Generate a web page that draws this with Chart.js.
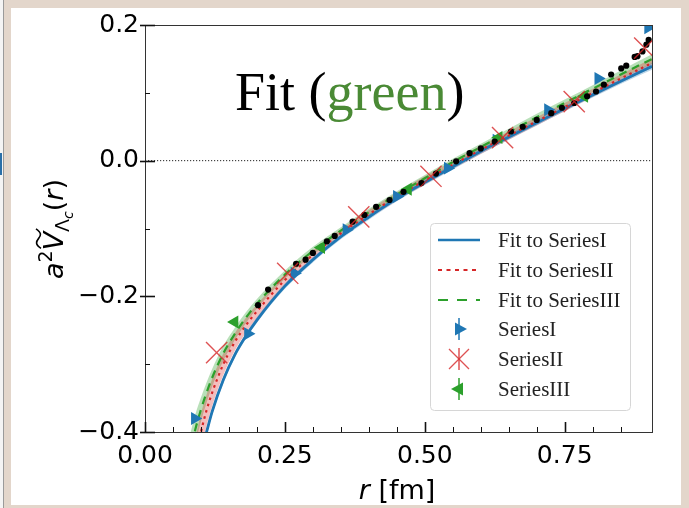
<!DOCTYPE html>
<html>
<head>
<meta charset="utf-8">
<script src="https://cdn.jsdelivr.net/npm/chart.js@4.4.0/dist/chart.umd.min.js"></script>
<style>
  html, body { margin:0; padding:0; width:689px; height:508px; overflow:hidden; background:#e3d6cb; }
  #edge { position:absolute; left:0; top:0; width:3px; height:508px; background:#f4f4f4; border-right:1px solid #9a9a9a; }
  #mark { position:absolute; left:0; top:153px; width:2px; height:22px; background:#2a6fa8; }
  #panel { position:absolute; left:11px; top:8px; width:670px; height:497px; background:#fff; }
  #wrap { position:absolute; left:0; top:0; width:689px; height:508px; }
</style>
</head>
<body>
<div id="edge"></div><div id="mark"></div>
<div id="panel"></div>
<div id="wrap"><canvas id="chart" width="689" height="508"></canvas></div>
<script>
const rGrid = [0.07, 0.08, 0.09, 0.10, 0.11, 0.12, 0.14, 0.16, 0.18, 0.20, 0.25, 0.30, 0.35, 0.40, 0.45, 0.50, 0.55, 0.60, 0.65, 0.70, 0.75, 0.80, 0.85, 0.906];
const fitI   = [-0.62, -0.53, -0.47, -0.43, -0.40, -0.37, -0.323, -0.287, -0.259, -0.235, -0.185, -0.146, -0.112, -0.083, -0.056, -0.032, -0.009, 0.014, 0.035, 0.056, 0.077, 0.097, 0.117, 0.139];
const fitII  = [-0.56, -0.49, -0.44, -0.40, -0.368, -0.342, -0.300, -0.268, -0.243, -0.222, -0.176, -0.139, -0.107, -0.079, -0.053, -0.029, -0.006, 0.016, 0.037, 0.058, 0.079, 0.100, 0.121, 0.144];
const fitIII = [-0.48, -0.434, -0.396, -0.367, -0.342, -0.320, -0.284, -0.256, -0.232, -0.211, -0.168, -0.133, -0.103, -0.076, -0.050, -0.026, -0.002, 0.020, 0.042, 0.064, 0.085, 0.106, 0.127, 0.150];
// half widths of the error bands
const errI   = [0.008, 0.007, 0.006, 0.006, 0.005, 0.005, 0.005, 0.004, 0.004, 0.004, 0.004, 0.004, 0.004, 0.004, 0.004, 0.004, 0.004, 0.004, 0.004, 0.004, 0.004, 0.004, 0.004, 0.005];
const errII  = [0.05, 0.04, 0.032, 0.027, 0.023, 0.020, 0.016, 0.013, 0.011, 0.010, 0.008, 0.007, 0.006, 0.006, 0.006, 0.006, 0.006, 0.006, 0.006, 0.006, 0.006, 0.006, 0.006, 0.007];
const errIII = [0.035, 0.028, 0.022, 0.018, 0.015, 0.013, 0.011, 0.009, 0.008, 0.007, 0.006, 0.006, 0.005, 0.005, 0.005, 0.005, 0.005, 0.005, 0.005, 0.005, 0.005, 0.005, 0.006, 0.007];

// data points
const seriesIR = [0.089, 0.184, 0.267, 0.360, 0.450, 0.541, 0.628, 0.720, 0.810, 0.899];
const seriesIV = [-0.380, -0.255, -0.166, -0.102, -0.053, -0.011, 0.030, 0.075, 0.121, 0.196];
const seriesIIR = [0.128, 0.255, 0.382, 0.511, 0.639, 0.767, 0.893];
const seriesIIV = [-0.283, -0.166, -0.083, -0.023, 0.034, 0.087, 0.166];
const seriesIIIR = [0.160, 0.315, 0.470, 0.632, 0.785];
const seriesIIIV = [-0.238, -0.128, -0.042, 0.034, 0.095];
const dotsR = [0.202, 0.220, 0.270, 0.287, 0.300, 0.325, 0.339, 0.371, 0.392, 0.413, 0.437, 0.462, 0.494, 0.520, 0.556, 0.580, 0.600, 0.625, 0.654, 0.675, 0.700, 0.726, 0.745, 0.767, 0.790, 0.806, 0.820, 0.833, 0.851, 0.860, 0.875, 0.880, 0.889, 0.896, 0.900];
const dotsV = [-0.213, -0.190, -0.152, -0.146, -0.136, -0.119, -0.111, -0.090, -0.080, -0.068, -0.058, -0.046, -0.033, -0.019, -0.001, 0.011, 0.018, 0.028, 0.043, 0.050, 0.060, 0.070, 0.078, 0.085, 0.095, 0.102, 0.112, 0.127, 0.136, 0.140, 0.153, 0.154, 0.161, 0.171, 0.178];
const zeroR = [0, 0.906];
const zeroV = [0, 0];

const xTickValues = [0, 0.25, 0.5, 0.75];
const xTickLabels = ['0.00', '0.25', '0.50', '0.75'];
const yTickValues = [-0.4, -0.2, 0, 0.2];
const yTickLabels = ['\u22120.4', '\u22120.2', '0.0', '0.2'];
const legendLabels = ['Fit to SeriesI', 'Fit to SeriesII', 'Fit to SeriesIII', 'SeriesI', 'SeriesII', 'SeriesIII'];

const BLUE = '#1f77b4', RED = '#d62728', GREEN = '#2ca02c';

function pts(xs, ys){
    return xs.map((x, i) => ({x: x, y: ys[i]}));
}
function band(xs, ys, err, sign){
    return xs.map((x, i) => ({x: x, y: ys[i] + sign * err[i]}));
}
function findLabel(values, labels, v){
    for (let i = 0; i < values.length; i++){
        if (Math.abs(values[i] - v) < 1e-6) return labels[i];
    }
    return '';
}

function lineSet(data, color, width, dash, order){
    return {type:'line', data: data, borderColor: color, borderWidth: width, borderDash: dash,
        pointRadius: 0, fill: false, cubicInterpolationMode: 'monotone', order: order, clip: 0};
}
function bandSet(data, fillColor, fill, order){
    return {type:'line', data: data, borderWidth: 0, borderColor: 'rgba(0,0,0,0)', backgroundColor: fillColor,
        pointRadius: 0, fill: fill, cubicInterpolationMode: 'monotone', order: order, clip: 0};
}

const datasets = [
    {data: pts(seriesIIR, seriesIIV), pointStyle: 'crossRot', pointRadius: 15, pointBorderWidth: 1.4,
        pointBorderColor: 'rgba(214,39,40,0.8)', pointBackgroundColor: 'rgba(0,0,0,0)', order: 0, clip: 0},
    {data: pts(dotsR, dotsV), pointStyle: 'circle', pointRadius: 3.1, pointBorderWidth: 0,
        pointBackgroundColor: '#000', order: 1, clip: 0},
    {data: pts(seriesIIIR, seriesIIIV), pointStyle: 'triangle', pointRotation: -90, pointRadius: 7.5, pointBorderWidth: 0,
        pointBackgroundColor: GREEN, order: 2, clip: 0},
    {data: pts(seriesIR, seriesIV), pointStyle: 'triangle', pointRotation: 90, pointRadius: 7.5, pointBorderWidth: 0,
        pointBackgroundColor: BLUE, order: 3, clip: 0},
    lineSet(pts(rGrid, fitIII), GREEN, 2.2, [8, 6], 4),
    lineSet(pts(rGrid, fitII), RED, 2.2, [2.5, 4], 5),
    lineSet(pts(rGrid, fitI), BLUE, 2.8, [], 6),
    lineSet(pts(zeroR, zeroV), '#222', 1, [1.2, 1.8], 7),
    bandSet(band(rGrid, fitI, errI, -1), 'rgba(0,0,0,0)', false, 8),
    bandSet(band(rGrid, fitI, errI, 1), 'rgba(31,119,180,0.3)', '-1', 8),
    bandSet(band(rGrid, fitII, errII, -1), 'rgba(0,0,0,0)', false, 9),
    bandSet(band(rGrid, fitII, errII, 1), 'rgba(214,39,40,0.3)', '-1', 9),
    bandSet(band(rGrid, fitIII, errIII, -1), 'rgba(0,0,0,0)', false, 10),
    bandSet(band(rGrid, fitIII, errIII, 1), 'rgba(44,160,44,0.33)', '-1', 10)
];

function drawTriangle(ctx, cx, cy, dir, color){
    ctx.fillStyle = color;
    ctx.beginPath();
    ctx.moveTo(cx + dir * 7, cy);
    ctx.lineTo(cx - dir * 5, cy - 6.5);
    ctx.lineTo(cx - dir * 5, cy + 6.5);
    ctx.closePath();
    ctx.fill();
}
function drawVBar(ctx, cx, cy, color){
    ctx.strokeStyle = color;
    ctx.lineWidth = 1.5;
    ctx.setLineDash([]);
    ctx.beginPath();
    ctx.moveTo(cx, cy - 11);
    ctx.lineTo(cx, cy + 11);
    ctx.stroke();
}

const decor = {
    id: 'decor',
    afterDraw(chart){
        const ctx = chart.ctx;
        const a = chart.chartArea;
        const xs = chart.scales.x, ys = chart.scales.y;
        ctx.save();

        // spines
        ctx.strokeStyle = '#333';
        ctx.lineWidth = 1;
        ctx.setLineDash([]);
        ctx.strokeRect(Math.round(a.left) + 0.5, Math.round(a.top) + 0.5, Math.round(a.right - a.left), Math.round(a.bottom - a.top));

        // inward ticks
        ctx.strokeStyle = '#111';
        xs.ticks.forEach(t => {
            const v = t.value;
            if (Math.abs(v * 20 - Math.round(v * 20)) > 1e-6) return;
            const major = findLabel(xTickValues, xTickLabels, v) !== '';
            const px = Math.round(xs.getPixelForValue(v)) + 0.5;
            ctx.lineWidth = major ? 1.6 : 1;
            ctx.beginPath();
            ctx.moveTo(px, a.bottom);
            ctx.lineTo(px, a.bottom - (major ? 10 : 5));
            ctx.stroke();
        });
        ys.ticks.forEach(t => {
            const v = t.value;
            const major = findLabel(yTickValues, yTickLabels, v) !== '';
            const py = Math.round(ys.getPixelForValue(v)) + 0.5;
            ctx.lineWidth = major ? 1.6 : 1;
            ctx.beginPath();
            ctx.moveTo(a.left - (major ? 5 : 0), py);
            ctx.lineTo(a.left + (major ? 10 : 5), py);
            ctx.stroke();
        });

        // title inside the plot
        ctx.font = '54px "Liberation Serif"';
        ctx.textBaseline = 'alphabetic';
        ctx.textAlign = 'left';
        let tx = 235;
        const ty = 110;
        ctx.fillStyle = '#000';
        ctx.fillText('Fit (', tx, ty);
        tx += ctx.measureText('Fit (').width;
        ctx.fillStyle = '#4a8a35';
        ctx.fillText('green', tx, ty);
        tx += ctx.measureText('green').width;
        ctx.fillStyle = '#000';
        ctx.fillText(')', tx, ty);

        // x axis title: r [fm]
        ctx.fillStyle = '#000';
        ctx.font = 'italic 27px "DejaVu Sans"';
        const wr = ctx.measureText('r').width;
        ctx.font = '27px "DejaVu Sans"';
        const wrest = ctx.measureText(' [fm]').width;
        let xx = 397 - (wr + wrest) / 2;
        ctx.font = 'italic 27px "DejaVu Sans"';
        ctx.fillText('r', xx, 499);
        ctx.font = '27px "DejaVu Sans"';
        ctx.fillText(' [fm]', xx + wr, 499);

        // y axis title: a^2 V~_{Lambda_c}(r)
        const parts = [
            {t: 'a', f: 'italic 27px "DejaVu Sans"', dy: 0},
            {t: '2', f: '19px "DejaVu Sans"', dy: -11},
            {t: 'V', f: 'italic 27px "DejaVu Sans"', dy: 0, tilde: true},
            {t: '\u039B', f: '19px "DejaVu Sans"', dy: 6},
            {t: 'c', f: 'italic 14px "DejaVu Sans"', dy: 10},
            {t: '(', f: '27px "DejaVu Sans"', dy: 0},
            {t: 'r', f: 'italic 27px "DejaVu Sans"', dy: 0},
            {t: ')', f: '27px "DejaVu Sans"', dy: 0}
        ];
        let total = 0;
        parts.forEach(p => { ctx.font = p.f; p.w = ctx.measureText(p.t).width; total += p.w; });
        ctx.translate(63, 229);
        ctx.rotate(-Math.PI / 2);
        let lx = -total / 2;
        parts.forEach(p => {
            ctx.font = p.f;
            ctx.fillText(p.t, lx, p.dy);
            if (p.tilde){
                ctx.strokeStyle = '#000';
                ctx.lineWidth = 1.6;
                ctx.beginPath();
                const x0 = lx + 2, x1 = lx + p.w + 3;
                const mid = (x0 + x1) / 2;
                ctx.moveTo(x0, -22);
                ctx.bezierCurveTo(x0 + 4, -28, mid - 3, -27, mid, -24.5);
                ctx.bezierCurveTo(mid + 3, -22, x1 - 4, -21, x1, -27);
                ctx.stroke();
            }
            lx += p.w;
        });
        ctx.setTransform(1, 0, 0, 1, 0, 0);

        // legend
        const bx = 430.5, by = 223.5, bw = 200, bh = 187, r = 4;
        ctx.fillStyle = 'rgba(255,255,255,0.85)';
        ctx.strokeStyle = '#d6d6d6';
        ctx.lineWidth = 1;
        ctx.beginPath();
        ctx.roundRect(bx, by, bw, bh, r);
        ctx.fill();
        ctx.stroke();

        const rows = [240, 270, 300, 329, 359, 389];
        const hx0 = 438, hx1 = 480, hc = 459;
        const lineStyles = [[BLUE, []], [RED, [4, 4.5]], [GREEN, [10, 9]]];
        for (let i = 0; i < 3; i++){
            ctx.strokeStyle = lineStyles[i][0];
            ctx.lineWidth = i === 0 ? 2.4 : 2.2;
            ctx.setLineDash(lineStyles[i][1]);
            ctx.beginPath();
            ctx.moveTo(hx0, rows[i]);
            ctx.lineTo(hx1, rows[i]);
            ctx.stroke();
        }
        ctx.setLineDash([]);
        drawVBar(ctx, hc, rows[3], BLUE);
        drawTriangle(ctx, hc + 1, rows[3], 1, BLUE);
        drawVBar(ctx, hc, rows[4], 'rgba(214,39,40,0.8)');
        ctx.strokeStyle = 'rgba(214,39,40,0.8)';
        ctx.lineWidth = 1.3;
        ctx.beginPath();
        ctx.moveTo(hc - 10, rows[4] - 10); ctx.lineTo(hc + 10, rows[4] + 10);
        ctx.moveTo(hc - 10, rows[4] + 10); ctx.lineTo(hc + 10, rows[4] - 10);
        ctx.stroke();
        drawVBar(ctx, hc, rows[5], GREEN);
        drawTriangle(ctx, hc - 1, rows[5], -1, GREEN);

        ctx.fillStyle = '#222';
        ctx.font = '21px "Liberation Serif"';
        ctx.textBaseline = 'middle';
        legendLabels.forEach((lab, i) => ctx.fillText(lab, 498, rows[i] + 1));

        ctx.restore();
    }
};

const ctx = document.getElementById('chart');
new Chart(ctx, {
    type: 'scatter',
    data: { datasets: datasets },
    options: {
        responsive: false,
        animation: false,
        layout: { padding: { left: 0, right: 37, top: 25, bottom: 0 } },
        plugins: { legend: { display: false }, tooltip: { enabled: false } },
        scales: {
            x: {
                type: 'linear', min: 0, max: 0.906,
                afterFit: s => { s.height = 76; },
                grid: { display: false, drawTicks: false },
                border: { display: false },
                ticks: {
                    stepSize: 0.05, autoSkip: false, maxRotation: 0, padding: 9, color: '#000',
                    font: { family: 'DejaVu Sans', size: 25 },
                    callback: v => findLabel(xTickValues, xTickLabels, v)
                }
            },
            y: {
                type: 'linear', min: -0.4, max: 0.2,
                afterFit: s => { s.width = 145; },
                grid: { display: false, drawTicks: false },
                border: { display: false },
                ticks: {
                    stepSize: 0.1, autoSkip: false, padding: 6, color: '#000',
                    font: { family: 'DejaVu Sans', size: 25 },
                    callback: v => findLabel(yTickValues, yTickLabels, v)
                }
            }
        }
    },
    plugins: [decor]
});
</script>
</body>
</html>
